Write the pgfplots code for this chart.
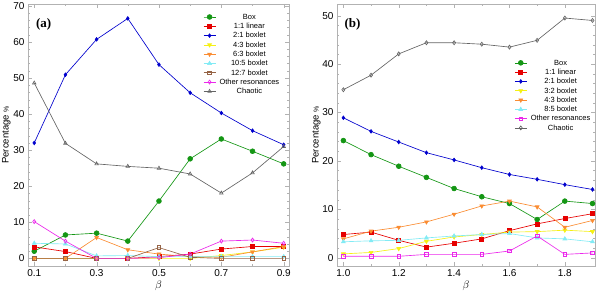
\documentclass[border=0pt]{standalone}
\usepackage{pgfplots}
\pgfplotsset{compat=1.18}
\usepackage{fontspec}
\setmainfont{Liberation Sans}
\newfontfamily\serifbf{Liberation Serif}
\definecolor{cBox}{RGB}{20,150,20}
\definecolor{cLin}{RGB}{230,0,0}
\definecolor{cBl}{RGB}{0,0,205}
\definecolor{cYel}{RGB}{245,240,20}
\definecolor{cOra}{RGB}{250,140,50}
\definecolor{cCya}{RGB}{130,235,245}
\definecolor{cBro}{RGB}{150,100,70}
\definecolor{cMag}{RGB}{235,40,235}
\definecolor{cGra}{RGB}{100,100,100}
\pgfplotsset{
 panel/.style={
  scale only axis, height=262pt,
  axis line style={gray!60},
  tick style={gray!60},
  tick align=inside,
  xtick pos=both, ytick pos=both,
  major tick length=4pt, minor tick length=2pt,
  ticklabel style={font=\fontsize{10}{11}\selectfont},
  /pgf/number format/assume math mode=true,
  ylabel={Percentage {\fontsize{7}{8}\selectfont\%}},
  xlabel={$\beta$},
  xlabel style={font=\fontsize{11}{12}\selectfont, yshift=3pt},
  every axis plot/.append style={line width=0.65pt},
  legend style={draw=none, fill=none, font=\fontsize{7.5}{8}\selectfont,
     nodes={inner sep=0.5pt, text height=6pt, text depth=1.5pt},
     row sep=0.8pt, column sep=1pt},
  legend image code/.code={\draw[mark repeat=2,mark phase=2] plot coordinates {(0pt,0pt) (6pt,0pt) (12pt,0pt)};},
 },
 sBox/.style={color=cBox, mark=*, mark size=2.4pt},
 sLin/.style={color=cLin, mark=square*, mark size=2pt},
 sBl/.style={color=cBl, mark=diamond*, mark size=1.8pt},
 sYel/.style={color=cYel, mark=triangle*, mark size=2.2pt, mark options={rotate=180}},
 sOra/.style={color=cOra, mark=triangle*, mark size=2.2pt, mark options={rotate=180}},
 sCya/.style={color=cCya, mark=triangle*, mark size=2.2pt},
 sBro/.style={color=cBro, mark=square, mark size=1.8pt, mark options={fill=white}},
 sMagA/.style={color=cMag, mark=diamond, mark size=2pt, mark options={fill=white}},
 sMagB/.style={color=cMag, mark=square, mark size=1.8pt, mark options={fill=white}},
 sGraA/.style={color=cGra, mark=triangle, mark size=2pt, mark options={fill=white}},
 sGraB/.style={color=cGra, mark=diamond, mark size=2pt, mark options={fill=white}},
}
\newcommand{\legtxt}[1]{\makebox[64pt]{#1}}
\begin{document}
\begin{tikzpicture}
\begin{axis}[panel, width=261pt, at={(0pt,0pt)}, anchor=south west,
  xmin=0.08, xmax=0.917, ymin=-2.1, ymax=70.5,
  xtick={0.1,0.3,0.5,0.7,0.9}, minor x tick num=1,
  ytick={0,10,...,70}, minor y tick num=4,
  xticklabel style={/pgf/number format/.cd,fixed,fixed zerofill,precision=1},
  every axis y label/.style={at={(rel axis cs:-0.083,0.5)}, rotate=90, anchor=center, font=\fontsize{9.5}{10}\selectfont},
  legend style={at={(rel axis cs:0.985,0.975)}, anchor=north east}]
\addplot[sBox] coordinates {(0.1,2.0)(0.2,6.5)(0.3,7.0)(0.4,4.8)(0.5,15.9)(0.6,27.6)(0.7,33.1)(0.8,29.7)(0.9,26.2)};
\addlegendentry{\legtxt{Box}}
\addplot[sLin] coordinates {(0.1,3.2)(0.2,1.9)(0.3,0)(0.4,0)(0.5,0.5)(0.6,1.2)(0.7,2.6)(0.8,3.3)(0.9,3.3)};
\addlegendentry{\legtxt{1:1 linear}}
\addplot[sBl] coordinates {(0.1,32.0)(0.2,50.9)(0.3,60.7)(0.4,66.5)(0.5,53.7)(0.6,45.9)(0.7,40.3)(0.8,35.4)(0.9,31.5)};
\addlegendentry{\legtxt{2:1 boxlet}}
\addplot[sYel] coordinates {(0.1,0)(0.2,0)(0.3,0)(0.4,0)(0.5,0)(0.6,0)(0.7,0.8)(0.8,1.8)(0.9,3.1)};
\addlegendentry{\legtxt{4:3 boxlet}}
\addplot[sOra] coordinates {(0.1,0)(0.2,0)(0.3,5.8)(0.4,2.4)(0.5,1.2)(0.6,0.5)(0.7,0.3)(0.8,1.8)(0.9,3.3)};
\addlegendentry{\legtxt{6:3 boxlet}}
\addplot[sCya] coordinates {(0.1,4.2)(0.2,4.0)(0.3,0.7)(0.4,0.8)(0.5,0.5)(0.6,0.5)(0.7,0.5)(0.8,0.5)(0.9,0.5)};
\addlegendentry{\legtxt{10:5 boxlet}}
\addplot[sBro] coordinates {(0.1,0)(0.2,0)(0.3,0)(0.4,0)(0.5,3.0)(0.6,0.3)(0.7,0)(0.8,0)(0.9,0)};
\addlegendentry{\legtxt{12:7 boxlet}}
\addplot[sMagA] coordinates {(0.1,10.2)(0.2,4.8)(0.3,0)(0.4,0)(0.5,0.2)(0.6,1.2)(0.7,4.8)(0.8,5.1)(0.9,4.2)};
\addlegendentry{\legtxt{Other resonances}}
\addplot[sGraA] coordinates {(0.1,48.6)(0.2,31.9)(0.3,26.2)(0.4,25.5)(0.5,25.0)(0.6,23.4)(0.7,18.1)(0.8,23.7)(0.9,31.0)};
\addlegendentry{\legtxt{Chaotic}}
\node[font=\serifbf\bfseries\fontsize{13}{14}\selectfont] at (rel axis cs:0.06,0.924) {(a)};
\end{axis}
\begin{axis}[panel, width=258pt, at={(309pt,0pt)}, anchor=south west,
  xmin=0.977, xmax=1.909, ymin=-1.7, ymax=52.4,
  xtick={1.0,1.2,1.4,1.6,1.8}, minor x tick num=1,
  ytick={0,10,...,50}, minor y tick num=4,
  xticklabel style={/pgf/number format/.cd,fixed,fixed zerofill,precision=1},
  every axis y label/.style={at={(rel axis cs:-0.08,0.5)}, rotate=90, anchor=center, font=\fontsize{9.5}{10}\selectfont},
  legend style={at={(rel axis cs:1.005,0.8)}, anchor=north east}]
\addplot[sBox] coordinates {(1.0,24.2)(1.1,21.3)(1.2,18.9)(1.3,16.6)(1.4,14.3)(1.5,12.6)(1.6,11.2)(1.7,7.9)(1.8,11.7)(1.9,11.2)};
\addlegendentry{\legtxt{Box}}
\addplot[sLin] coordinates {(1.0,4.8)(1.1,5.3)(1.2,3.6)(1.3,2.2)(1.4,3.0)(1.5,3.9)(1.6,5.6)(1.7,7.0)(1.8,8.1)(1.9,9.1)};
\addlegendentry{\legtxt{1:1 linear}}
\addplot[sBl] coordinates {(1.0,28.9)(1.1,26.1)(1.2,23.9)(1.3,21.7)(1.4,20.2)(1.5,18.6)(1.6,17.2)(1.7,16.2)(1.8,15.1)(1.9,14.1)};
\addlegendentry{\legtxt{2:1 boxlet}}
\addplot[sYel] coordinates {(1.0,0.8)(1.1,1.1)(1.2,1.9)(1.3,3.4)(1.4,4.3)(1.5,4.8)(1.6,5.3)(1.7,5.4)(1.8,5.7)(1.9,5.4)};
\addlegendentry{\legtxt{3:2 boxlet}}
\addplot[sOra] coordinates {(1.0,3.9)(1.1,5.5)(1.2,6.3)(1.3,7.4)(1.4,9.0)(1.5,10.7)(1.6,11.7)(1.7,10.5)(1.8,6.3)(1.9,7.7)};
\addlegendentry{\legtxt{4:3 boxlet}}
\addplot[sCya] coordinates {(1.0,3.3)(1.1,3.5)(1.2,3.6)(1.3,4.1)(1.4,4.5)(1.5,4.8)(1.6,5.0)(1.7,4.1)(1.8,3.9)(1.9,3.3)};
\addlegendentry{\legtxt{8:5 boxlet}}
\addplot[sMagB] coordinates {(1.0,0.3)(1.1,0.3)(1.2,0.3)(1.3,0.7)(1.4,0.7)(1.5,0.7)(1.6,1.4)(1.7,4.5)(1.8,0.7)(1.9,1.0)};
\addlegendentry{\legtxt{Other resonances}}
\addplot[sGraB] coordinates {(1.0,34.7)(1.1,37.7)(1.2,42.1)(1.3,44.4)(1.4,44.4)(1.5,44.1)(1.6,43.5)(1.7,44.9)(1.8,49.5)(1.9,49.0)};
\addlegendentry{\legtxt{Chaotic}}
\node[font=\serifbf\bfseries\fontsize{13}{14}\selectfont] at (rel axis cs:0.06,0.924) {(b)};
\end{axis}
\pgfresetboundingbox
\path[use as bounding box] (-28pt,-29pt) rectangle (572pt,266pt);
\end{tikzpicture}
\end{document}
